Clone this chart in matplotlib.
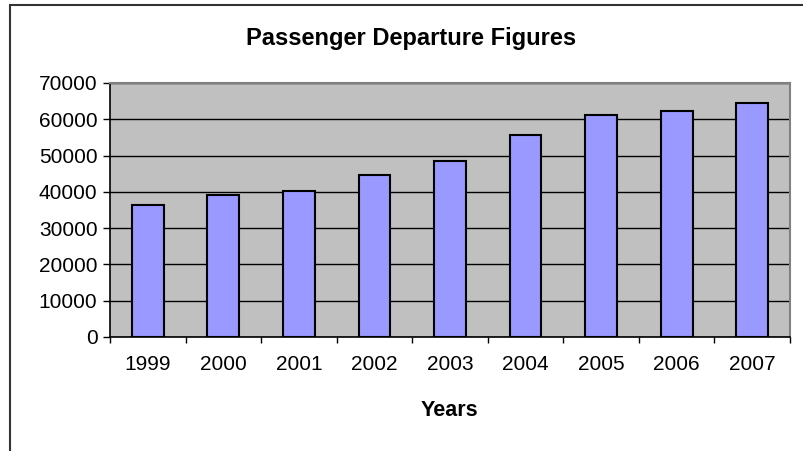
import matplotlib.pyplot as plt
import matplotlib.patches as patches
import numpy as np

plt.rcParams['font.family'] = ['Liberation Sans', 'DejaVu Sans']

years = ["1999", "2000", "2001", "2002", "2003", "2004", "2005", "2006", "2007"]
departures = [36300, 39100, 40300, 44600, 48500, 55600, 61100, 62200, 64400]
y_ticks = [0, 10000, 20000, 30000, 40000, 50000, 60000, 70000]

W, H = 804, 451
fig = plt.figure(figsize=(W / 100, H / 100), dpi=100)
fig.patch.set_facecolor("white")

# plot area in pixel coords
left, top, right, bottom = 110, 83, 790, 337
ax = fig.add_axes([left / W, 1 - bottom / H, (right - left) / W, (bottom - top) / H])
ax.set_facecolor("#C0C0C0")

x = np.arange(len(years))
ax.bar(x, departures, width=0.42, color="#9999FF", edgecolor="black", linewidth=1.5, zorder=3)

ax.set_xlim(-0.5, len(years) - 0.5)
ax.set_ylim(0, 70000)
ax.set_yticks(y_ticks)
ax.set_yticklabels([str(v) for v in y_ticks], fontsize=15)
ax.yaxis.grid(True, color="black", linewidth=1, zorder=1)
ax.set_axisbelow(True)

# category boundary ticks, labels at centres
ax.set_xticks(np.arange(len(years) + 1) - 0.5)
ax.set_xticklabels([])
ax.set_xticks(x, minor=True)
ax.set_xticklabels(years, minor=True, fontsize=15)
ax.tick_params(axis="x", which="major", length=4, width=1, color="black", direction="out")
ax.tick_params(axis="x", which="minor", length=0, pad=13)
ax.tick_params(axis="y", length=5, width=1, color="black", pad=4)

for s in ["top", "right"]:
    ax.spines[s].set_color("#808080")
    ax.spines[s].set_linewidth(1.5)
for s in ["left", "bottom"]:
    ax.spines[s].set_color("black")
    ax.spines[s].set_linewidth(1.2)

fig.text(411 / W, 1 - 38 / H, "Passenger Departure Figures", ha="center", va="center",
         fontsize=17, fontweight="bold")
fig.text(449 / W, 1 - 410 / H, "Years", ha="center", va="center", fontsize=15.5, fontweight="bold")

# chart area border (cut off at right and bottom)
border = patches.Rectangle((10 / W, -0.1), 1.2, 1.1 - 5 / H, transform=fig.transFigure,
                           fill=False, edgecolor="#333333", linewidth=1.5, clip_on=False)
fig.patches.append(border)

fig.savefig("out.png", dpi=100)
